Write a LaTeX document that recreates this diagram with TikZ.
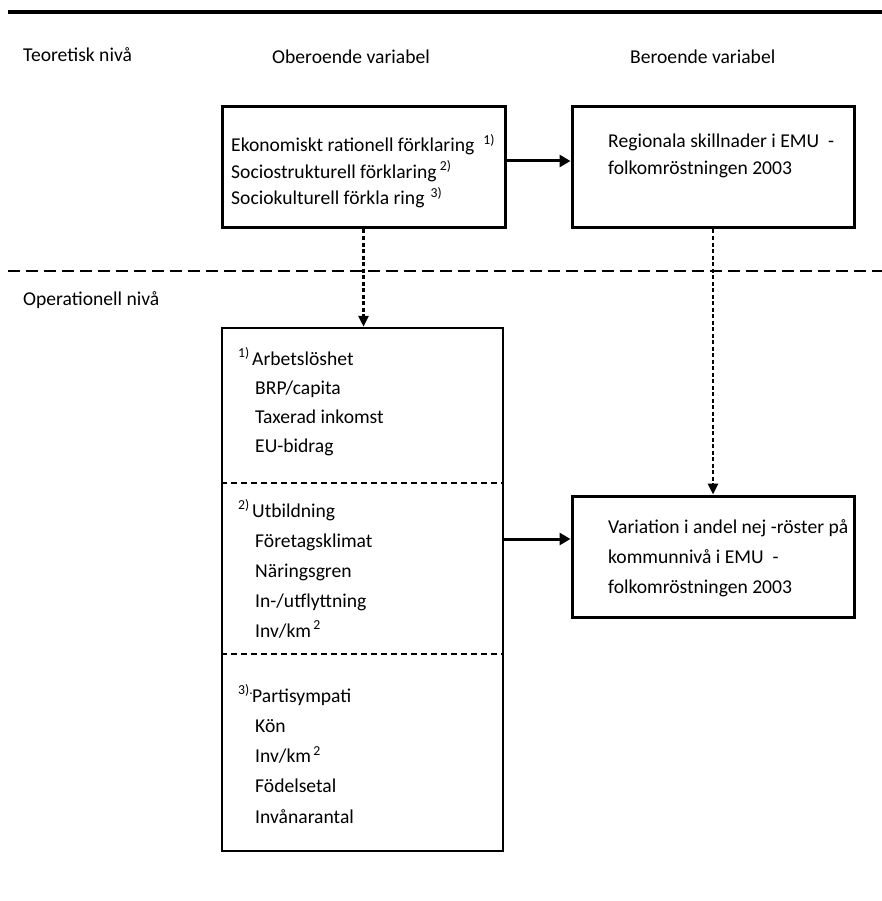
\documentclass[tikz,border=0pt]{standalone}
\usepackage{fontspec}
\setmainfont{Carlito}
\usetikzlibrary{arrows.meta,fit}
\newcommand{\fnm}[1]{\textsuperscript{#1}}
\begin{document}
\begin{tikzpicture}[x=1pt,y=-1pt,
  lbl/.style={anchor=base west, inner sep=0pt, align=left, font=\fontsize{19.6}{29}\selectfont},
  boxthick/.style={draw, line width=3pt, inner sep=0pt},
  boxmid/.style={draw, line width=2.5pt, inner sep=0pt},
  solidarrow/.style={line width=3pt, -{Triangle[length=11pt,width=12pt]}},
  dotarrow/.style={line width=2.7pt, dash pattern=on 4pt off 2.5pt, -{Triangle[length=11pt,width=10pt]}},
  sepline/.style={line width=1.4pt, dash pattern=on 6pt off 4pt},
  levelline/.style={line width=2.5pt, dash pattern=on 12pt off 6pt},
]
\useasboundingbox (0,0) rectangle (882,901);
% top rule
\coordinate (tl) at (8,12.5);
\coordinate (tr) at (882,12.5);
\draw[line width=4pt] (tl) -- (tr);
% headers
\node[lbl] (teo) at (23,62) {Teoretisk nivå};
\node[lbl] (obe) at (272,64) {Oberoende variabel};
\node[lbl] (ber) at (630,64) {Beroende variabel};
% top boxes
\coordinate (b1nw) at (222,107);
\coordinate (b1se) at (505,228);
\node[boxthick, fit=(b1nw)(b1se)] (b1) {};
\coordinate (b2nw) at (572,107);
\coordinate (b2se) at (854,228);
\node[boxthick, fit=(b2nw)(b2se)] (b2) {};
% (anchor base = baseline of last line)
\node[lbl, font=\fontsize{19.6}{26.5}\selectfont] (t1) at (231,205)
  {Ekonomiskt rationell förklaring\hspace{9pt}\fnm{1)}\\
   Sociostrukturell förklaring\,\fnm{2)}\\
   Sociokulturell förkla ring\hspace{6pt}\fnm{3)}};
\node[lbl, font=\fontsize{19.6}{27}\selectfont] (t2) at (608,175)
  {Regionala skillnader i EMU\ \ -\\ folkomröstningen 2003};
\coordinate (a1) at (0,161);
\draw[solidarrow] (b1.east |- a1) -- (b2.west |- a1);
% level line
\coordinate (dl) at (8,271);
\coordinate (dr) at (882,271);
\draw[levelline] (dl) -- (dr);
\node[lbl] (ope) at (23,305) {Operationell nivå};
% operational boxes
\coordinate (b3nw) at (222,328);
\coordinate (b3se) at (503,851);
\node[boxmid, fit=(b3nw)(b3se)] (b3) {};
\coordinate (b4nw) at (572,496);
\coordinate (b4se) at (854,617);
\node[boxthick, fit=(b4nw)(b4se)] (b4) {};
\coordinate (s1) at (0,483);
\coordinate (s2) at (0,654);
\draw[sepline] (b3.west |- s1) -- (b3.east |- s1);
\draw[sepline] (b3.west |- s2) -- (b3.east |- s2);
\node[lbl] (g1) at (238,452)
  {\makebox[14pt][l]{\fnm{1)}}Arbetslöshet\\
   \hspace*{17pt}BRP/capita\\
   \hspace*{17pt}Taxerad inkomst\\
   \hspace*{17pt}EU-bidrag};
\node[lbl, font=\fontsize{19.6}{30}\selectfont] (g2) at (238,637)
  {\makebox[14pt][l]{\fnm{2)}}Utbildning\\
   \hspace*{17pt}Företagsklimat\\
   \hspace*{17pt}Näringsgren\\
   \hspace*{17pt}In-/utflyttning\\
   \hspace*{17pt}Inv/km\fnm{\,2}};
\node[lbl, font=\fontsize{19.6}{30.2}\selectfont] (g3) at (238,823)
  {\makebox[14pt][l]{\fnm{3).}}Partisympati\\
   \hspace*{17pt}Kön\\
   \hspace*{17pt}Inv/km\fnm{\,2}\\
   \hspace*{17pt}Födelsetal\\
   \hspace*{17pt}Invånarantal};
\node[lbl, font=\fontsize{19.6}{30}\selectfont] (t4) at (608,593)
  {Variation i andel nej -röster på\\
   kommunnivå i EMU\ \ -\\
   folkomröstningen 2003};
\coordinate (a2) at (0,539);
\draw[solidarrow] (b3.east |- a2) -- (b4.west |- a2);
% dotted connectors
\draw[dotarrow] (b1.south) -- (b1.south |- b3.north);
\draw[dotarrow] (b2.south) -- (b2.south |- b4.north);
\end{tikzpicture}
\end{document}
